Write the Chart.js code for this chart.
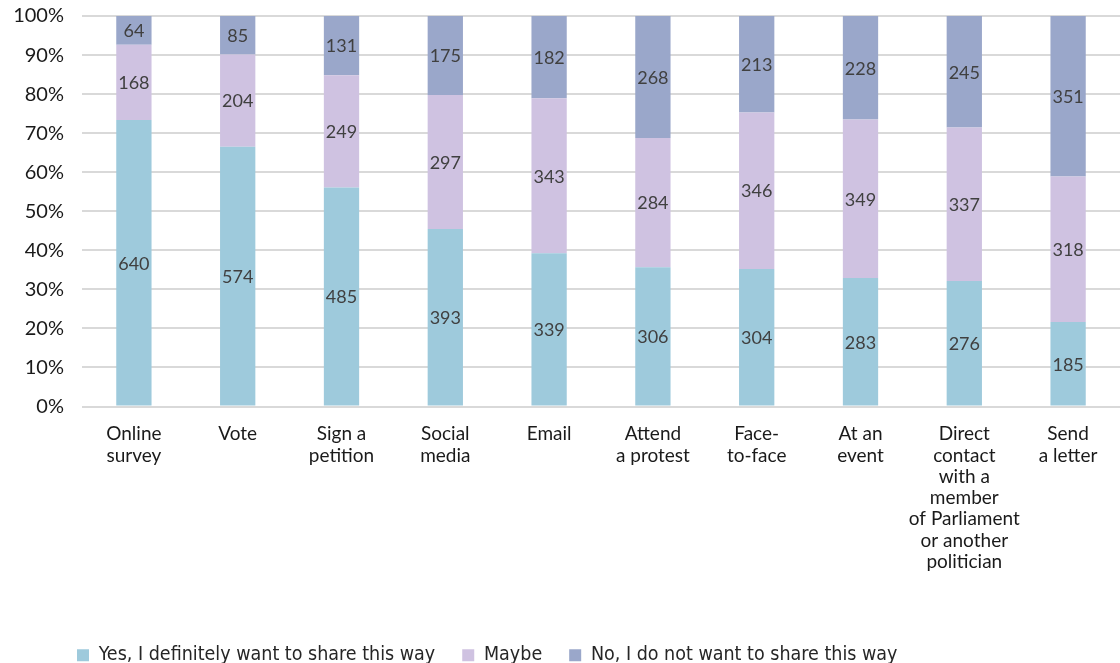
<!DOCTYPE html>
<html>
<head>
<meta charset="utf-8">
<script src="https://cdn.jsdelivr.net/npm/chart.js@4.4.1/dist/chart.umd.min.js"></script>
<style>
  html, body { margin: 0; padding: 0; background: #fff; }
  #wrap { width: 1120px; height: 663px; }
</style>
</head>
<body>
<div id="wrap"><canvas id="bar-chart" width="1120" height="663"></canvas></div>
<script>
var categories = [
    ["Online", "survey"], ["Vote"], ["Sign a", "petition"], ["Social", "media"], ["Email"],
    ["Attend", "a protest"], ["Face-", "to-face"], ["At an", "event"],
    ["Direct", "contact", "with a", "member", "of Parliament", "or another", "politician"],
    ["Send", "a letter"]
];
var yesCounts = [640, 574, 485, 393, 339, 306, 304, 283, 276, 185];
var maybeCounts = [168, 204, 249, 297, 343, 284, 346, 349, 337, 318];
var noCounts = [64, 85, 131, 175, 182, 268, 213, 228, 245, 351];
var seriesNames = ["Yes, I definitely want to share this way", "Maybe", "No, I do not want to share this way"];
var yTicks = [0, 10, 20, 30, 40, 50, 60, 70, 80, 90, 100];

var colorArr = ["#9ecadc", "#cfc2e1", "#9aa7ca"];
var tickFont = "Lato, 'Open Sans', sans-serif";

// share of each answer per category (100% stacked)
function toPercent(counts) {
    return counts.map(function (v, i) {
        var total = yesCounts[i] + maybeCounts[i] + noCounts[i];
        return v / total * 100;
    });
}

var countSets = [yesCounts, maybeCounts, noCounts];

var countLabels = {
    id: "countLabels",
    afterDatasetsDraw: function (chart) {
        var ctx = chart.ctx;
        ctx.save();
        ctx.font = "18px " + tickFont;
        ctx.fillStyle = "#404040";
        ctx.textAlign = "center";
        ctx.textBaseline = "middle";
        chart.data.datasets.forEach(function (ds, di) {
            chart.getDatasetMeta(di).data.forEach(function (bar, i) {
                ctx.fillText(String(countSets[di][i]), bar.x, (bar.y + bar.base) / 2 + 1);
            });
        });
        ctx.restore();
    }
};

// legend in the reference starts at the left edge and sits lower
var legendShift = {
    id: "legendShift",
    beforeDraw: function (chart) {
        var lg = chart.legend;
        var w = lg.right - lg.left;
        var h = lg.bottom - lg.top;
        lg.left = 50;
        lg.right = 50 + w;
        lg.top = 663 - h + 12;
        lg.bottom = lg.top + h;
    }
};

var dataObject = seriesNames.map(function (name, i) {
    return {
        label: name,
        data: toPercent(countSets[i]),
        backgroundColor: colorArr[i],
        borderWidth: 0,
        barPercentage: 0.34,
        categoryPercentage: 1
    };
});

new Chart(document.getElementById("bar-chart"), {
    type: "bar",
    data: { labels: categories, datasets: dataObject },
    plugins: [countLabels, legendShift],
    options: {
        responsive: false,
        animation: false,
        layout: { padding: { top: 16, right: 0, left: 0, bottom: 0 } },
        plugins: {
            tooltip: { enabled: false },
            legend: {
                position: "bottom",
                align: "start",
                labels: {
                    boxWidth: 12,
                    boxHeight: 12,
                    padding: 27,
                    color: "#262626",
                    font: { family: "'Liberation Sans Narrow', 'DejaVu Sans Condensed', Lato, sans-serif", size: 19.5 }
                }
            }
        },
        scales: {
            x: {
                stacked: true,
                grid: { display: false },
                border: { display: false },
                ticks: {
                    color: "#1a1a1a",
                    maxRotation: 0,
                    autoSkip: false,
                    padding: 9,
                    font: { family: tickFont, size: 19, lineHeight: 1.12 }
                },
                afterFit: function (scale) {
                    scale.height = 200;
                    scale.paddingTop = 0;
                    scale.paddingBottom = 0;
                }
            },
            y: {
                stacked: true,
                min: 0,
                max: 100,
                afterBuildTicks: function (scale) {
                    scale.ticks = yTicks.map(function (v) { return { value: v }; });
                },
                grid: { color: "#d9d9d9", lineWidth: 2, drawTicks: false },
                border: { display: false },
                ticks: {
                    color: "#1a1a1a",
                    padding: 18,
                    font: { family: tickFont, size: 20 },
                    callback: function (v) { return v + "%"; }
                },
                afterFit: function (scale) {
                    scale.width = 82;
                    scale.paddingTop = 0;
                    scale.paddingBottom = 0;
                }
            }
        }
    }
});
</script>
</body>
</html>
